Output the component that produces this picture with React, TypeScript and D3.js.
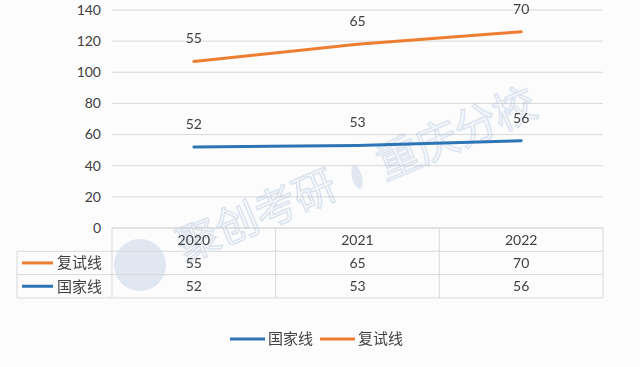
import React from "react";
import * as d3 from "d3";

const categories = ["2020", "2021", "2022"];
const nationalLine = [52, 53, 56]; // 国家线
const retestLine = [55, 65, 70]; // 复试线 (stacked on 国家线)
const yTicks = [0, 20, 40, 60, 80, 100, 120, 140];
const seriesNames = ["国家线", "复试线"];

const W = 640, H = 367;
const BLUE = "#2E75B6";
const ORANGE = "#ED7D31";
const NUM_FONT = "Lato, 'Noto Sans', sans-serif";
const CJK_FONT = "'Noto Sans CJK SC', sans-serif";

export default function App() {
  const x = d3.scaleBand<string>().domain(categories).range([112, 603]);
  const y = d3.scaleLinear().domain([0, 140]).range([228, 10]);
  const cx = (c: string) => (x(c) as number) + x.bandwidth() / 2;

  const stacked = retestLine.map((v, i) => v + nationalLine[i]);
  const line = d3.line<[number, number]>().x(d => d[0]).y(d => d[1]);
  const bluePts: [number, number][] = categories.map((c, i) => [cx(c), y(nationalLine[i])]);
  const orangePts: [number, number][] = categories.map((c, i) => [cx(c), y(stacked[i])]);

  const rowTop = 228, rowH = 23.3;
  const tableRows = [
    { name: "复试线", color: ORANGE, vals: retestLine },
    { name: "国家线", color: BLUE, vals: nationalLine },
  ];
  const gridColor = "#d9d9d9";

  return (
    <div style={{ position: "fixed", left: 0, top: 0 }}>
      <svg width={W} height={H} style={{ display: "block" }}>
        <rect width={W} height={H} fill="#fcfcfd" />
        {/* gridlines */}
        {yTicks.map(t => (
          <line key={t} x1={112} x2={603} y1={y(t)} y2={y(t)} stroke={gridColor} strokeWidth={1} />
        ))}
        {/* y tick labels */}
        {yTicks.map(t => (
          <text key={"l" + t} x={101} y={y(t)} dy="0.35em" textAnchor="end" fontFamily={NUM_FONT} fontSize={14} fill="#404040">{t}</text>
        ))}
        {/* watermark */}
        <g opacity={0.26} fill="#8fa9cf">
          <circle cx={140} cy={265} r={26} />
          <text transform="translate(185,262) rotate(-23)" fontFamily={CJK_FONT} fontSize={42} fill="none" stroke="#7f9cc8" strokeWidth={1.6}>聚创考研</text>
          <ellipse cx={357} cy={177} rx={5} ry={12} transform="rotate(-15 357 177)" />
          <text transform="translate(385,180) rotate(-23)" fontFamily={CJK_FONT} fontSize={42} fill="none" stroke="#7f9cc8" strokeWidth={1.6}>重庆分校</text>
        </g>
        {/* data table */}
        <g stroke={gridColor} strokeWidth={1} fill="none">
          <line x1={112} x2={603} y1={rowTop} y2={rowTop} />
          <line x1={17} x2={603} y1={rowTop + rowH} y2={rowTop + rowH} />
          <line x1={17} x2={603} y1={rowTop + 2 * rowH} y2={rowTop + 2 * rowH} />
          <line x1={17} x2={603} y1={rowTop + 3 * rowH} y2={rowTop + 3 * rowH} />
          <line x1={17} x2={17} y1={rowTop + rowH} y2={rowTop + 3 * rowH} />
          <line x1={112} x2={112} y1={rowTop} y2={rowTop + 3 * rowH} />
          {categories.map(c => (
            <line key={c} x1={(x(c) as number) + x.bandwidth()} x2={(x(c) as number) + x.bandwidth()} y1={rowTop} y2={rowTop + 3 * rowH} />
          ))}
        </g>
        {categories.map(c => (
          <text key={"h" + c} x={cx(c)} y={rowTop + rowH / 2} dy="0.35em" textAnchor="middle" fontFamily={NUM_FONT} fontSize={14} fill="#404040">{c}</text>
        ))}
        {tableRows.map((r, ri) => (
          <g key={r.name}>
            <line x1={22} x2={53} y1={rowTop + (ri + 1.5) * rowH} y2={rowTop + (ri + 1.5) * rowH} stroke={r.color} strokeWidth={3} />
            <text x={57} y={rowTop + (ri + 1.5) * rowH} dy="0.35em" fontFamily={CJK_FONT} fontSize={15} fill="#404040">{r.name}</text>
            {r.vals.map((v, i) => (
              <text key={i} x={cx(categories[i])} y={rowTop + (ri + 1.5) * rowH} dy="0.35em" textAnchor="middle" fontFamily={NUM_FONT} fontSize={14} fill="#404040">{v}</text>
            ))}
          </g>
        ))}
        {/* lines */}
        <path d={line(bluePts) as string} fill="none" stroke={BLUE} strokeWidth={3} strokeLinecap="round" />
        <path d={line(orangePts) as string} fill="none" stroke={ORANGE} strokeWidth={3} strokeLinecap="round" />
        {/* data labels */}
        {bluePts.map((p, i) => (
          <text key={"bl" + i} x={p[0]} y={p[1] - 23} dy="0.35em" textAnchor="middle" fontFamily={NUM_FONT} fontSize={14} fill="#404040">{nationalLine[i]}</text>
        ))}
        {orangePts.map((p, i) => (
          <text key={"ol" + i} x={p[0]} y={p[1] - 23} dy="0.35em" textAnchor="middle" fontFamily={NUM_FONT} fontSize={14} fill="#404040">{retestLine[i]}</text>
        ))}
        {/* legend */}
        {seriesNames.map((n, i) => {
          const lx = 230 + i * 90;
          const c = i === 0 ? BLUE : ORANGE;
          return (
            <g key={n}>
              <line x1={lx} x2={lx + 35} y1={339} y2={339} stroke={c} strokeWidth={3} />
              <text x={lx + 38} y={339} dy="0.35em" fontFamily={CJK_FONT} fontSize={15} fill="#404040">{n}</text>
            </g>
          );
        })}
      </svg>
    </div>
  );
}
